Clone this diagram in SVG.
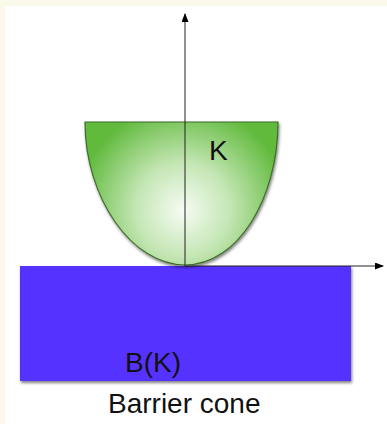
<svg xmlns="http://www.w3.org/2000/svg" width="387" height="424" viewBox="0 0 387 424">
<defs>
<radialGradient id="g" cx="183" cy="210" r="105" fx="183" fy="210" gradientUnits="userSpaceOnUse">
<stop offset="0" stop-color="#f6fcf3"/>
<stop offset="0.45" stop-color="#c4e6b4"/>
<stop offset="1" stop-color="#62ba3e"/>
</radialGradient>
<filter id="sh" x="-10%" y="-10%" width="120%" height="125%">
<feDropShadow dx="1" dy="2" stdDeviation="1.5" flood-color="#000" flood-opacity="0.5"/>
</filter>
<marker id="ah" markerWidth="9" markerHeight="7" refX="8" refY="3.5" orient="auto" markerUnits="userSpaceOnUse">
<path d="M0,0 L9,3.5 L0,7 Z" fill="#000"/>
</marker>
<style>
.t{font-family:"Liberation Sans",Arial,sans-serif;font-size:28px;fill:#111}
.ax{stroke:#222;stroke-width:1;fill:none}
</style>
</defs>
<rect width="387" height="424" fill="#fbf9ea"/>
<rect x="5" y="6" width="382" height="418" fill="#ffffff"/>
<g id="barrier">
<rect x="20" y="266" width="331" height="115" fill="#5533ff" filter="url(#sh)"/>
<text class="t" x="125" y="372">B(K)</text>
</g>
<g id="cone">
<path d="M85,122 L278,122 C278,198 238,265 185,265 C132,265 85,198 85,122 Z" fill="url(#g)" stroke="#3f6b2c" stroke-width="1.2" filter="url(#sh)"/>
<text class="t" x="209" y="160">K</text>
</g>
<g id="connectors">
<line class="ax" x1="185" y1="266" x2="185" y2="14" marker-end="url(#ah)"/>
<line class="ax" x1="185" y1="266" x2="383" y2="266" marker-end="url(#ah)"/>
</g>
<text class="t" x="108" y="413">Barrier cone</text>
</svg>
